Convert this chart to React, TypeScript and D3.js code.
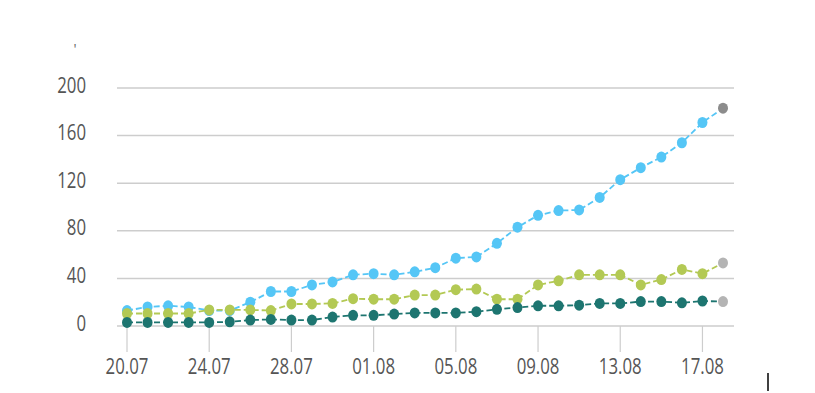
import React from "react";
import * as d3 from "d3";

const dates = [
  "20.07","21.07","22.07","23.07","24.07","25.07","26.07","27.07","28.07","29.07","30.07","31.07",
  "01.08","02.08","03.08","04.08","05.08","06.08","07.08","08.08","09.08","10.08","11.08","12.08",
  "13.08","14.08","15.08","16.08","17.08","18.08",
];
const blueValues = [13, 16, 17, 16, 13, 13, 20, 29, 29, 34.5, 37, 43, 44, 43, 45.5, 49, 57, 58, 69.5, 83, 93, 97, 97.5, 108, 123, 133, 142, 154, 171, 183];
const greenValues = [10.5, 10.5, 10.5, 10.5, 13.5, 13.5, 13.5, 13, 18.5, 18.5, 19, 23, 22.5, 22.5, 26, 26, 30.5, 31, 22.5, 22.5, 34.5, 38, 43, 43, 43, 34.5, 39, 47.5, 44, 53];
const tealValues = [3, 3, 3, 3, 3, 3.5, 5, 5.5, 5, 5, 7.5, 9, 9, 10, 11, 11, 11, 12, 14, 15.5, 17, 17, 17.5, 19, 19, 20.5, 20.5, 19.5, 21, 20.5];
const yTicks = [0, 40, 80, 120, 160, 200];
const xTickLabels = ["20.07", "24.07", "28.07", "01.08", "05.08", "09.08", "13.08", "17.08"];

const series = [
  { name: "blue", values: blueValues, color: "#55c6f6", last: "#8c8c8c" },
  { name: "green", values: greenValues, color: "#b3c954", last: "#b4b4b4" },
  { name: "teal", values: tealValues, color: "#1d7570", last: "#b4b4b4" },
];

export default function App() {
  const W = 815, H = 393;
  const x = d3.scaleLinear().domain([0, dates.length - 1]).range([127, 723]);
  const y = d3.scaleLinear().domain([0, 200]).range([326, 88]);
  const line = d3.line<number>().x((_, i) => x(i)).y((d) => y(d));
  const font = "'Open Sans', 'Noto Sans', sans-serif";
  const sx = 0.8;

  return (
    <svg width={W} height={H} style={{ position: "absolute", left: 0, top: 0, background: "#fff" }}>
      <text x={75} y={54} fontSize={14} fill="#666" textAnchor="middle" fontFamily={font}>'</text>
      {yTicks.map((t) => (
        <g key={t}>
          <line x1={117} x2={734} y1={y(t)} y2={y(t)} stroke="#cdcdcd" strokeWidth={1.5} />
          <g transform={`translate(86,${y(t) + 4.5}) scale(${sx},1)`}>
            <text x={0} y={0} fontSize={21} fill="#555" textAnchor="end" fontFamily={font}>{t}</text>
          </g>
        </g>
      ))}
      {xTickLabels.map((lab) => {
        const i = dates.indexOf(lab);
        return (
          <g key={lab}>
            <line x1={x(i)} x2={x(i)} y1={y(0)} y2={352} stroke="#cdcdcd" strokeWidth={1.2} />
            <g transform={`translate(${x(i)},374) scale(${sx},1)`}>
              <text x={0} y={0} fontSize={21} fill="#555" textAnchor="middle" fontFamily={font}>{lab}</text>
            </g>
          </g>
        );
      })}
      {series.map((s) => (
        <g key={s.name}>
          <path d={line(s.values) || ""} fill="none" stroke={s.color} strokeWidth={1.8} strokeDasharray="6,3" />
          {s.values.map((v, i) => (
            <ellipse key={i} cx={x(i)} cy={y(v)} rx={5} ry={5.5} fill={i === s.values.length - 1 ? s.last : s.color} />
          ))}
        </g>
      ))}
      <line x1={768} x2={768} y1={373} y2={391} stroke="#000" strokeWidth={1.5} />
    </svg>
  );
}
